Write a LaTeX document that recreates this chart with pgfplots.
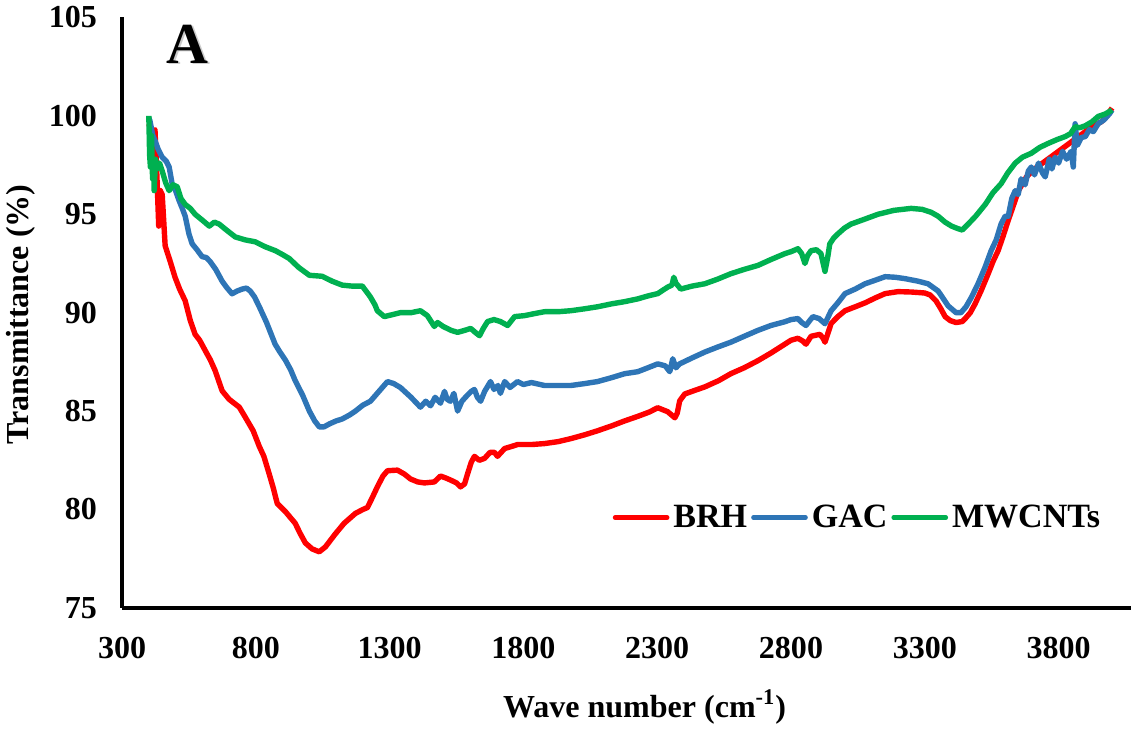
\documentclass[border=0pt]{standalone}
\usepackage{pgfplots}
\pgfplotsset{compat=1.18}
\usepackage{pgfplotstable}
\usepackage{fontspec}
\setmainfont{Liberation Serif}

\definecolor{brh}{RGB}{255,0,0}
\definecolor{gac}{RGB}{46,117,182}
\definecolor{mwc}{RGB}{0,176,80}

% FTIR spectra: wave number (cm^-1) vs transmittance (%)
\pgfplotstableread{
x y
400 99.6
410 99.2
423 99.3
430 97.0
437 94.4
443 96.2
450 96.0
461 93.4
480 92.6
498 91.8
515 91.2
536 90.6
555 89.6
573 88.9
590 88.6
611 88.07
630 87.6
648 87.05
674 86.03
700 85.6
738 85.2
760 84.7
790 84.0
813 83.2
830 82.7
850 81.8
865 81.1
880 80.3
910 79.9
947 79.3
965 78.8
985 78.3
1010 78.0
1037 77.85
1060 78.1
1097 78.76
1130 79.3
1172 79.8
1200 80.0
1217 80.1
1235 80.6
1254 81.15
1275 81.7
1292 81.97
1329 82.0
1355 81.8
1378 81.55
1405 81.4
1430 81.35
1467 81.4
1490 81.7
1510 81.6
1527 81.5
1550 81.35
1565 81.15
1580 81.3
1591 81.8
1605 82.4
1617 82.7
1635 82.5
1655 82.6
1675 82.9
1692 82.9
1703 82.7
1730 83.1
1755 83.2
1778 83.3
1830 83.3
1879 83.35
1930 83.45
1977 83.6
2030 83.8
2077 84.0
2130 84.25
2178 84.5
2227 84.73
2270 84.95
2302 85.17
2339 84.97
2366 84.66
2375 84.9
2384 85.52
2403 85.87
2440 86.05
2478 86.23
2530 86.55
2575 86.9
2625 87.2
2676 87.56
2725 87.95
2777 88.4
2800 88.6
2826 88.7
2845 88.55
2856 88.4
2875 88.8
2908 88.9
2920 88.7
2927 88.5
2950 89.45
2975 89.8
3002 90.1
3040 90.3
3077 90.5
3115 90.75
3152 90.97
3200 91.07
3250 91.05
3300 91.0
3320 90.9
3342 90.6
3360 90.2
3376 89.8
3395 89.6
3417 89.5
3440 89.55
3451 89.7
3470 90.0
3488 90.45
3510 91.1
3537 91.98
3555 92.6
3574 93.15
3593 93.9
3612 94.7
3630 95.4
3650 96.2
3680 96.9
3710 97.3
3740 97.6
3770 97.9
3800 98.2
3830 98.5
3860 98.8
3900 99.2
3930 99.5
3960 99.7
3980 100.0
4000 100.4
}\brhdata

\pgfplotstableread{
x y
400 99.9
404 99.76
415 99.0
423 98.75
435 98.3
450 97.9
465 97.7
476 97.4
487 96.55
500 96.2
513 95.7
525 95.3
536 94.9
550 94.0
562 93.5
580 93.2
599 92.85
615 92.8
629 92.6
650 92.2
674 91.6
690 91.3
711 90.96
730 91.1
749 91.2
765 91.25
779 91.1
795 90.8
813 90.3
840 89.5
872 88.4
890 88.0
910 87.6
930 87.1
947 86.55
975 85.8
1000 85.0
1020 84.5
1037 84.2
1055 84.2
1075 84.35
1100 84.5
1123 84.6
1150 84.8
1172 85.0
1200 85.3
1228 85.5
1260 86.0
1292 86.5
1315 86.4
1340 86.2
1380 85.7
1415 85.2
1435 85.5
1453 85.27
1470 85.7
1490 85.4
1505 86.0
1515 85.6
1527 85.5
1540 85.9
1554 85.0
1570 85.5
1590 85.8
1605 86.0
1617 86.1
1628 85.7
1640 85.5
1655 86.0
1677 86.5
1690 86.1
1705 86.3
1714 85.9
1730 86.5
1750 86.2
1778 86.5
1800 86.35
1830 86.45
1879 86.3
1930 86.3
1977 86.3
2030 86.4
2077 86.5
2130 86.7
2178 86.9
2227 87.0
2265 87.2
2302 87.4
2330 87.3
2347 87.0
2358 87.66
2370 87.2
2384 87.4
2430 87.7
2478 88.0
2525 88.25
2575 88.5
2625 88.8
2676 89.1
2725 89.35
2777 89.54
2800 89.65
2826 89.7
2840 89.5
2856 89.35
2870 89.6
2882 89.8
2905 89.7
2927 89.44
2950 90.1
2975 90.5
3002 90.97
3040 91.2
3077 91.47
3115 91.65
3152 91.83
3190 91.8
3226 91.73
3275 91.6
3312 91.47
3350 91.1
3370 90.7
3387 90.35
3417 90.0
3435 90.0
3454 90.3
3475 90.8
3499 91.47
3525 92.3
3548 93.15
3567 93.7
3585 94.5
3600 94.9
3612 94.9
3625 95.8
3638 96.2
3649 96.0
3660 96.8
3675 96.5
3687 97.2
3698 97.4
3710 97.0
3725 97.6
3740 97.1
3750 96.9
3765 97.8
3775 97.3
3787 97.9
3800 97.6
3815 98.2
3830 97.8
3847 98.2
3855 97.4
3862 99.6
3870 98.5
3885 98.9
3900 98.95
3915 99.3
3930 99.2
3948 99.6
3970 99.8
3990 100.1
4000 100.3
}\gacdata

\pgfplotstableread{
x y
400 100.0
403 98.0
406 97.4
410 99.0
414 96.8
418 97.6
420 96.2
425 97.8
432 97.3
440 97.6
450 97.2
463 96.6
476 96.2
490 96.5
506 96.4
520 95.8
536 95.5
555 95.3
573 95.0
600 94.7
626 94.4
645 94.6
663 94.5
690 94.2
723 93.85
760 93.7
798 93.6
835 93.35
873 93.15
900 92.95
925 92.75
960 92.3
1000 91.9
1048 91.85
1085 91.6
1123 91.4
1160 91.35
1198 91.35
1228 90.8
1245 90.4
1254 90.1
1280 89.8
1310 89.9
1340 90.0
1380 90.0
1415 90.1
1441 89.85
1467 89.3
1479 89.5
1500 89.3
1530 89.1
1554 89.0
1580 89.1
1603 89.2
1620 89.0
1636 88.83
1650 89.2
1666 89.55
1690 89.65
1714 89.55
1741 89.35
1767 89.8
1804 89.85
1840 89.95
1879 90.05
1930 90.05
1977 90.1
2030 90.2
2077 90.3
2130 90.45
2178 90.56
2227 90.7
2265 90.85
2302 90.97
2339 91.3
2355 91.4
2362 91.8
2370 91.5
2388 91.2
2430 91.35
2478 91.47
2525 91.7
2575 91.98
2625 92.2
2676 92.4
2725 92.7
2777 93.0
2800 93.1
2826 93.25
2840 93.0
2852 92.5
2862 92.9
2875 93.15
2895 93.2
2912 93.0
2927 92.1
2937 92.8
2945 93.5
2960 93.8
2975 94.0
3000 94.3
3024 94.5
3075 94.75
3125 95.0
3185 95.2
3249 95.3
3290 95.25
3324 95.1
3350 94.9
3376 94.6
3400 94.4
3424 94.27
3440 94.2
3462 94.5
3490 94.9
3526 95.5
3555 96.1
3585 96.55
3610 97.1
3638 97.6
3665 97.9
3698 98.1
3730 98.4
3761 98.6
3795 98.8
3825 98.95
3845 99.1
3862 99.45
3880 99.4
3900 99.5
3925 99.7
3948 99.97
3975 100.1
4000 100.3
}\mwcdata

\begin{document}
\begin{tikzpicture}
\begin{axis}[
  scale only axis,
  width=504pt, height=295pt,
  xmin=300, xmax=4070, ymin=75, ymax=105,
  xtick={300,800,...,3800},
  ytick={75,80,...,105},
  axis lines=left,
  axis line style={-, line width=2.2pt},
  major tick length=0pt,
  /pgf/number format/assume math mode=true,
  /pgf/number format/1000 sep={},
  tick label style={font=\fontsize{16}{19}\selectfont\bfseries},
  xticklabel style={yshift=-11pt},
  yticklabel style={xshift=-9pt},
  xlabel={Wave number (cm\textsuperscript{-1})},
  ylabel={Transmittance (\%)},
  label style={font=\fontsize{16}{19}\selectfont\bfseries},
  xlabel style={at={(axis description cs:0.518,-0.168)}, anchor=center},
  ylabel style={at={(axis description cs:-0.100,0.497)}, anchor=center},
  legend columns=-1,
  legend style={draw=none, fill=none, at={(axis description cs:0.974,0.153)},
    anchor=east, font=\fontsize{17}{19}\selectfont\bfseries,
    inner sep=0pt, nodes={inner xsep=2pt, inner ysep=1pt}},
  legend image code/.code={\draw[#1, line width=2.3pt, line cap=round] (0pt,0pt) -- (26pt,0pt);},
  every axis plot/.append style={mark=none, line width=2.7pt, line join=round},
]
\addplot[color=brh] table[x=x, y=y] {\brhdata};
\addlegendentry{BRH\hspace{5pt}}
\addplot[color=gac] table[x=x, y=y] {\gacdata};
\addlegendentry{GAC\hspace{5pt}}
\addplot[color=mwc] table[x=x, y=y] {\mwcdata};
\addlegendentry{MWCNTs}

% panel letter with a soft drop shadow
\node[font=\fontsize{29}{30}\selectfont\bfseries, text=black!40, opacity=0.5] at (axis cs:551,103.56) {A};
\node[font=\fontsize{29}{30}\selectfont\bfseries, text=black] at (axis cs:545,103.65) {A};
\end{axis}
\end{tikzpicture}
\end{document}
